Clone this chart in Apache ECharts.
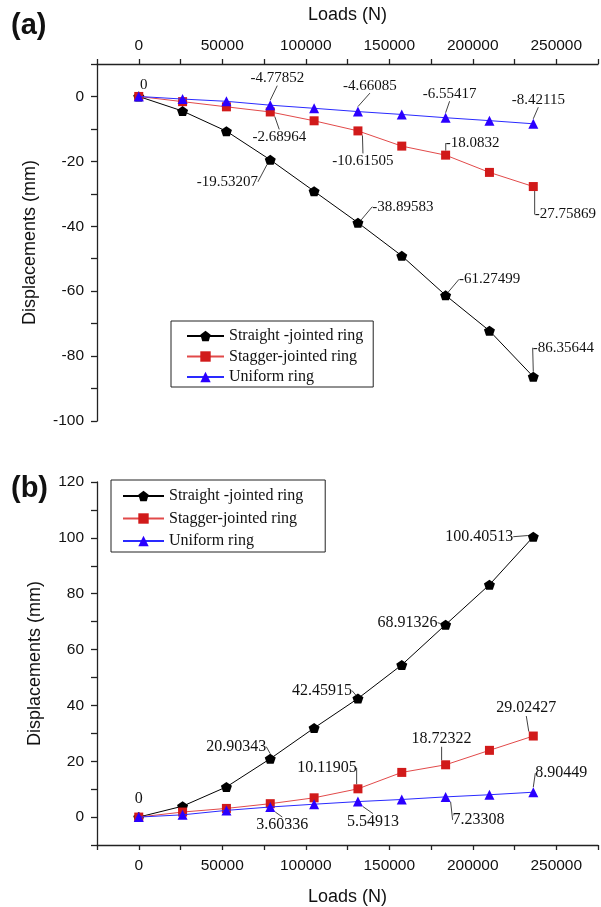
<!DOCTYPE html>
<html>
<head>
<meta charset="utf-8">
<script src="https://cdn.jsdelivr.net/npm/echarts@6/dist/echarts.min.js"></script>
<style>html,body{margin:0;padding:0;background:#fff;}#c{width:601px;height:907px;}</style>
</head>
<body>
<div id="c"></div>
<script>
// ---- data ----
var loads = [0, 26250, 52500, 78750, 105000, 131250, 157500, 183750, 210000, 236250];
var seriesNames = ['Straight -jointed ring', 'Stagger-jointed ring', 'Uniform ring'];
// (a)
var aStraight = [0, -4.5, -10.7, -19.53207, -29.2, -38.89583, -49.1, -61.27499, -72.2, -86.35644];
var aStagger  = [0, -1.6, -3.2, -4.77852, -7.5, -10.61505, -15.3, -18.0832, -23.4, -27.75869];
var aUniform  = [0, -0.8, -1.5, -2.68964, -3.65, -4.66085, -5.55, -6.55417, -7.45, -8.42115];
var aStraightLabels = ['0', '', '', '-19.53207', '', '-38.89583', '', '-61.27499', '', '-86.35644'];
var aStaggerLabels  = ['', '', '', '-2.68964', '', '-10.61505', '', '-18.0832', '', '-27.75869'];
var aUniformLabels  = ['', '', '', '-4.77852', '', '-4.66085', '', '-6.55417', '', '-8.42115'];
// (b)
var bStraight = [0, 3.9, 10.8, 20.90343, 31.9, 42.45915, 54.5, 68.91326, 83.2, 100.40513];
var bStagger  = [0, 1.8, 3.1, 4.8, 6.9, 10.11905, 16.0, 18.72322, 23.9, 29.02427];
var bUniform  = [0, 0.8, 2.4, 3.60336, 4.6, 5.54913, 6.3, 7.23308, 8.0, 8.90449];
var bStraightLabels = ['0', '', '', '20.90343', '', '42.45915', '', '68.91326', '', '100.40513'];
var bStaggerLabels  = ['', '', '', '', '', '10.11905', '', '18.72322', '', '29.02427'];
var bUniformLabels  = ['', '', '', '3.60336', '', '5.54913', '', '7.23308', '', '8.90449'];
var xTickLabels = [0, 50000, 100000, 150000, 200000, 250000];
var aYTickLabels = [0, -20, -40, -60, -80, -100];
var bYTickLabels = [0, 20, 40, 60, 80, 100, 120];

// ---- layout (label offsets relative to point, px) ----
var offsets = {
  aStraight: {0: [5, -11], 3: [-43, 22], 5: [45, -16], 7: [44, -16], 9: [30, -29]},
  aStagger:  {3: [9, 25], 5: [5, 30], 7: [27, -12], 9: [32, 28]},
  aUniform:  {3: [7, -27], 5: [12, -26], 7: [4, -24], 9: [5, -24]},
  bStraight: {0: [0, -18], 3: [-34, -12], 5: [-36, -8], 7: [-38, -2], 9: [-54, 0]},
  bStagger:  {5: [-31, -21], 7: [-4, -26], 9: [-7, -28]},
  bUniform:  {3: [12, 18], 5: [15, 20], 7: [33, 23], 9: [28, -19]}
};

var pentagon = 'path://M0,-10 L9.51,-3.09 L5.88,8.09 L-5.88,8.09 L-9.51,-3.09 Z';
var styles = [
  {symbol: pentagon, size: [11, 10], color: '#000000', line: '#000000'},
  {symbol: 'rect', size: 9, color: '#d11a1a', line: '#e24a4a'},
  {symbol: 'triangle', size: 10, color: '#2a00ff', line: '#2a2aff'}
];
var serif = 'Liberation Serif, Times New Roman, serif';
var sans = 'Liberation Sans, Arial, sans-serif';

function makeSeries(name, idx, vals, labels, offKey, grid, fontSize) {
  var st = styles[idx];
  var off = offsets[offKey];
  var data = loads.map(function (x, i) {
    var item = {value: [x, vals[i]]};
    if (labels[i]) {
      item.label = {show: true, formatter: labels[i]};
      item.labelLine = {show: i !== 0};
    }
    return item;
  });
  return {
    type: 'line', name: name, xAxisIndex: grid, yAxisIndex: grid,
    data: data, symbol: st.symbol, symbolSize: st.size,
    itemStyle: {color: st.color, borderWidth: 0},
    lineStyle: {color: st.line, width: 1},
    label: {show: false, position: 'inside', fontFamily: serif, fontSize: fontSize, color: '#111'},
    labelLine: {show: true, length2: 0, smooth: false, lineStyle: {color: '#111', width: 0.8}},
    labelLayout: function (p) {
      var o = off[p.dataIndex];
      if (!o) return {};
      return {dx: o[0], dy: o[1]};
    },
    z: 2 + idx
  };
}

var axisLineStyle = {color: '#222', width: 1.3};
var chart = echarts.init(document.getElementById('c'), null, {renderer: 'canvas'});
chart.setOption({
  animation: false,
  backgroundColor: '#ffffff',
  title: [
    {text: '(a)', left: 6, top: 6, textStyle: {fontFamily: sans, fontWeight: 'bold', fontSize: 29, color: '#111'}},
    {text: '(b)', left: 6, top: 469, textStyle: {fontFamily: sans, fontWeight: 'bold', fontSize: 29, color: '#111'}}
  ],
  grid: [
    {left: 97, top: 64, width: 504, height: 357},
    {left: 97, top: 482, width: 504, height: 363}
  ],
  legend: [
    {data: seriesNames, orient: 'vertical', left: 171, top: 321, itemWidth: 37, itemHeight: 13, itemGap: 4.5,
     padding: [7, 10, 2, 15], borderColor: '#222', borderWidth: 1, selectedMode: false,
     textStyle: {fontFamily: serif, fontSize: 16, color: '#111'}},
    {data: seriesNames, orient: 'vertical', left: 111, top: 480, itemWidth: 41, itemHeight: 13, itemGap: 6.5,
     padding: [8, 22, 3, 11], borderColor: '#222', borderWidth: 1, selectedMode: false,
     textStyle: {fontFamily: serif, fontSize: 16, color: '#111'}}
  ],
  xAxis: [
    {gridIndex: 0, type: 'value', position: 'top', min: -25000, max: 275000, interval: 25000,
     name: 'Loads (N)', nameLocation: 'middle', nameGap: 40,
     nameTextStyle: {fontFamily: sans, fontSize: 18, color: '#111'},
     axisLine: {show: true, onZero: false, lineStyle: axisLineStyle},
     axisTick: {show: true, length: 5, lineStyle: axisLineStyle},
     splitLine: {show: false},
     axisLabel: {margin: 10, fontFamily: sans, fontSize: 15.5, color: '#111',
       formatter: function (v) { return xTickLabels.indexOf(v) >= 0 ? String(v) : ''; }}},
    {gridIndex: 1, type: 'value', position: 'bottom', min: -25000, max: 275000, interval: 25000,
     name: 'Loads (N)', nameLocation: 'middle', nameGap: 43,
     nameTextStyle: {fontFamily: sans, fontSize: 18, color: '#111'},
     axisLine: {show: true, onZero: false, lineStyle: axisLineStyle},
     axisTick: {show: true, length: 5, lineStyle: axisLineStyle},
     splitLine: {show: false},
     axisLabel: {margin: 13, fontFamily: sans, fontSize: 15.5, color: '#111',
       formatter: function (v) { return xTickLabels.indexOf(v) >= 0 ? String(v) : ''; }}}
  ],
  yAxis: [
    {gridIndex: 0, type: 'value', min: -100, max: 10, interval: 10,
     name: 'Displacements (mm)', nameLocation: 'middle', nameGap: 58,
     nameTextStyle: {fontFamily: sans, fontSize: 18, color: '#111'},
     axisLine: {show: true, onZero: false, lineStyle: axisLineStyle},
     axisTick: {show: true, length: 6, lineStyle: axisLineStyle},
     splitLine: {show: false},
     axisLabel: {margin: 13, fontFamily: sans, fontSize: 15.5, color: '#111',
       formatter: function (v) { return aYTickLabels.indexOf(v) >= 0 ? String(v) : ''; }}},
    {gridIndex: 1, type: 'value', min: -10, max: 120, interval: 10,
     name: 'Displacements (mm)', nameLocation: 'middle', nameGap: 53,
     nameTextStyle: {fontFamily: sans, fontSize: 18, color: '#111'},
     axisLine: {show: true, onZero: false, lineStyle: axisLineStyle},
     axisTick: {show: true, length: 6, lineStyle: axisLineStyle},
     splitLine: {show: false},
     axisLabel: {margin: 13, fontFamily: sans, fontSize: 15.5, color: '#111',
       formatter: function (v) { return bYTickLabels.indexOf(v) >= 0 ? String(v) : ''; }}}
  ],
  series: [
    makeSeries(seriesNames[0], 0, aStraight, aStraightLabels, 'aStraight', 0, 15),
    makeSeries(seriesNames[1], 1, aStagger, aStaggerLabels, 'aStagger', 0, 15),
    makeSeries(seriesNames[2], 2, aUniform, aUniformLabels, 'aUniform', 0, 15),
    makeSeries(seriesNames[0], 0, bStraight, bStraightLabels, 'bStraight', 1, 16),
    makeSeries(seriesNames[1], 1, bStagger, bStaggerLabels, 'bStagger', 1, 16),
    makeSeries(seriesNames[2], 2, bUniform, bUniformLabels, 'bUniform', 1, 16)
  ]
});
</script>
</body>
</html>
